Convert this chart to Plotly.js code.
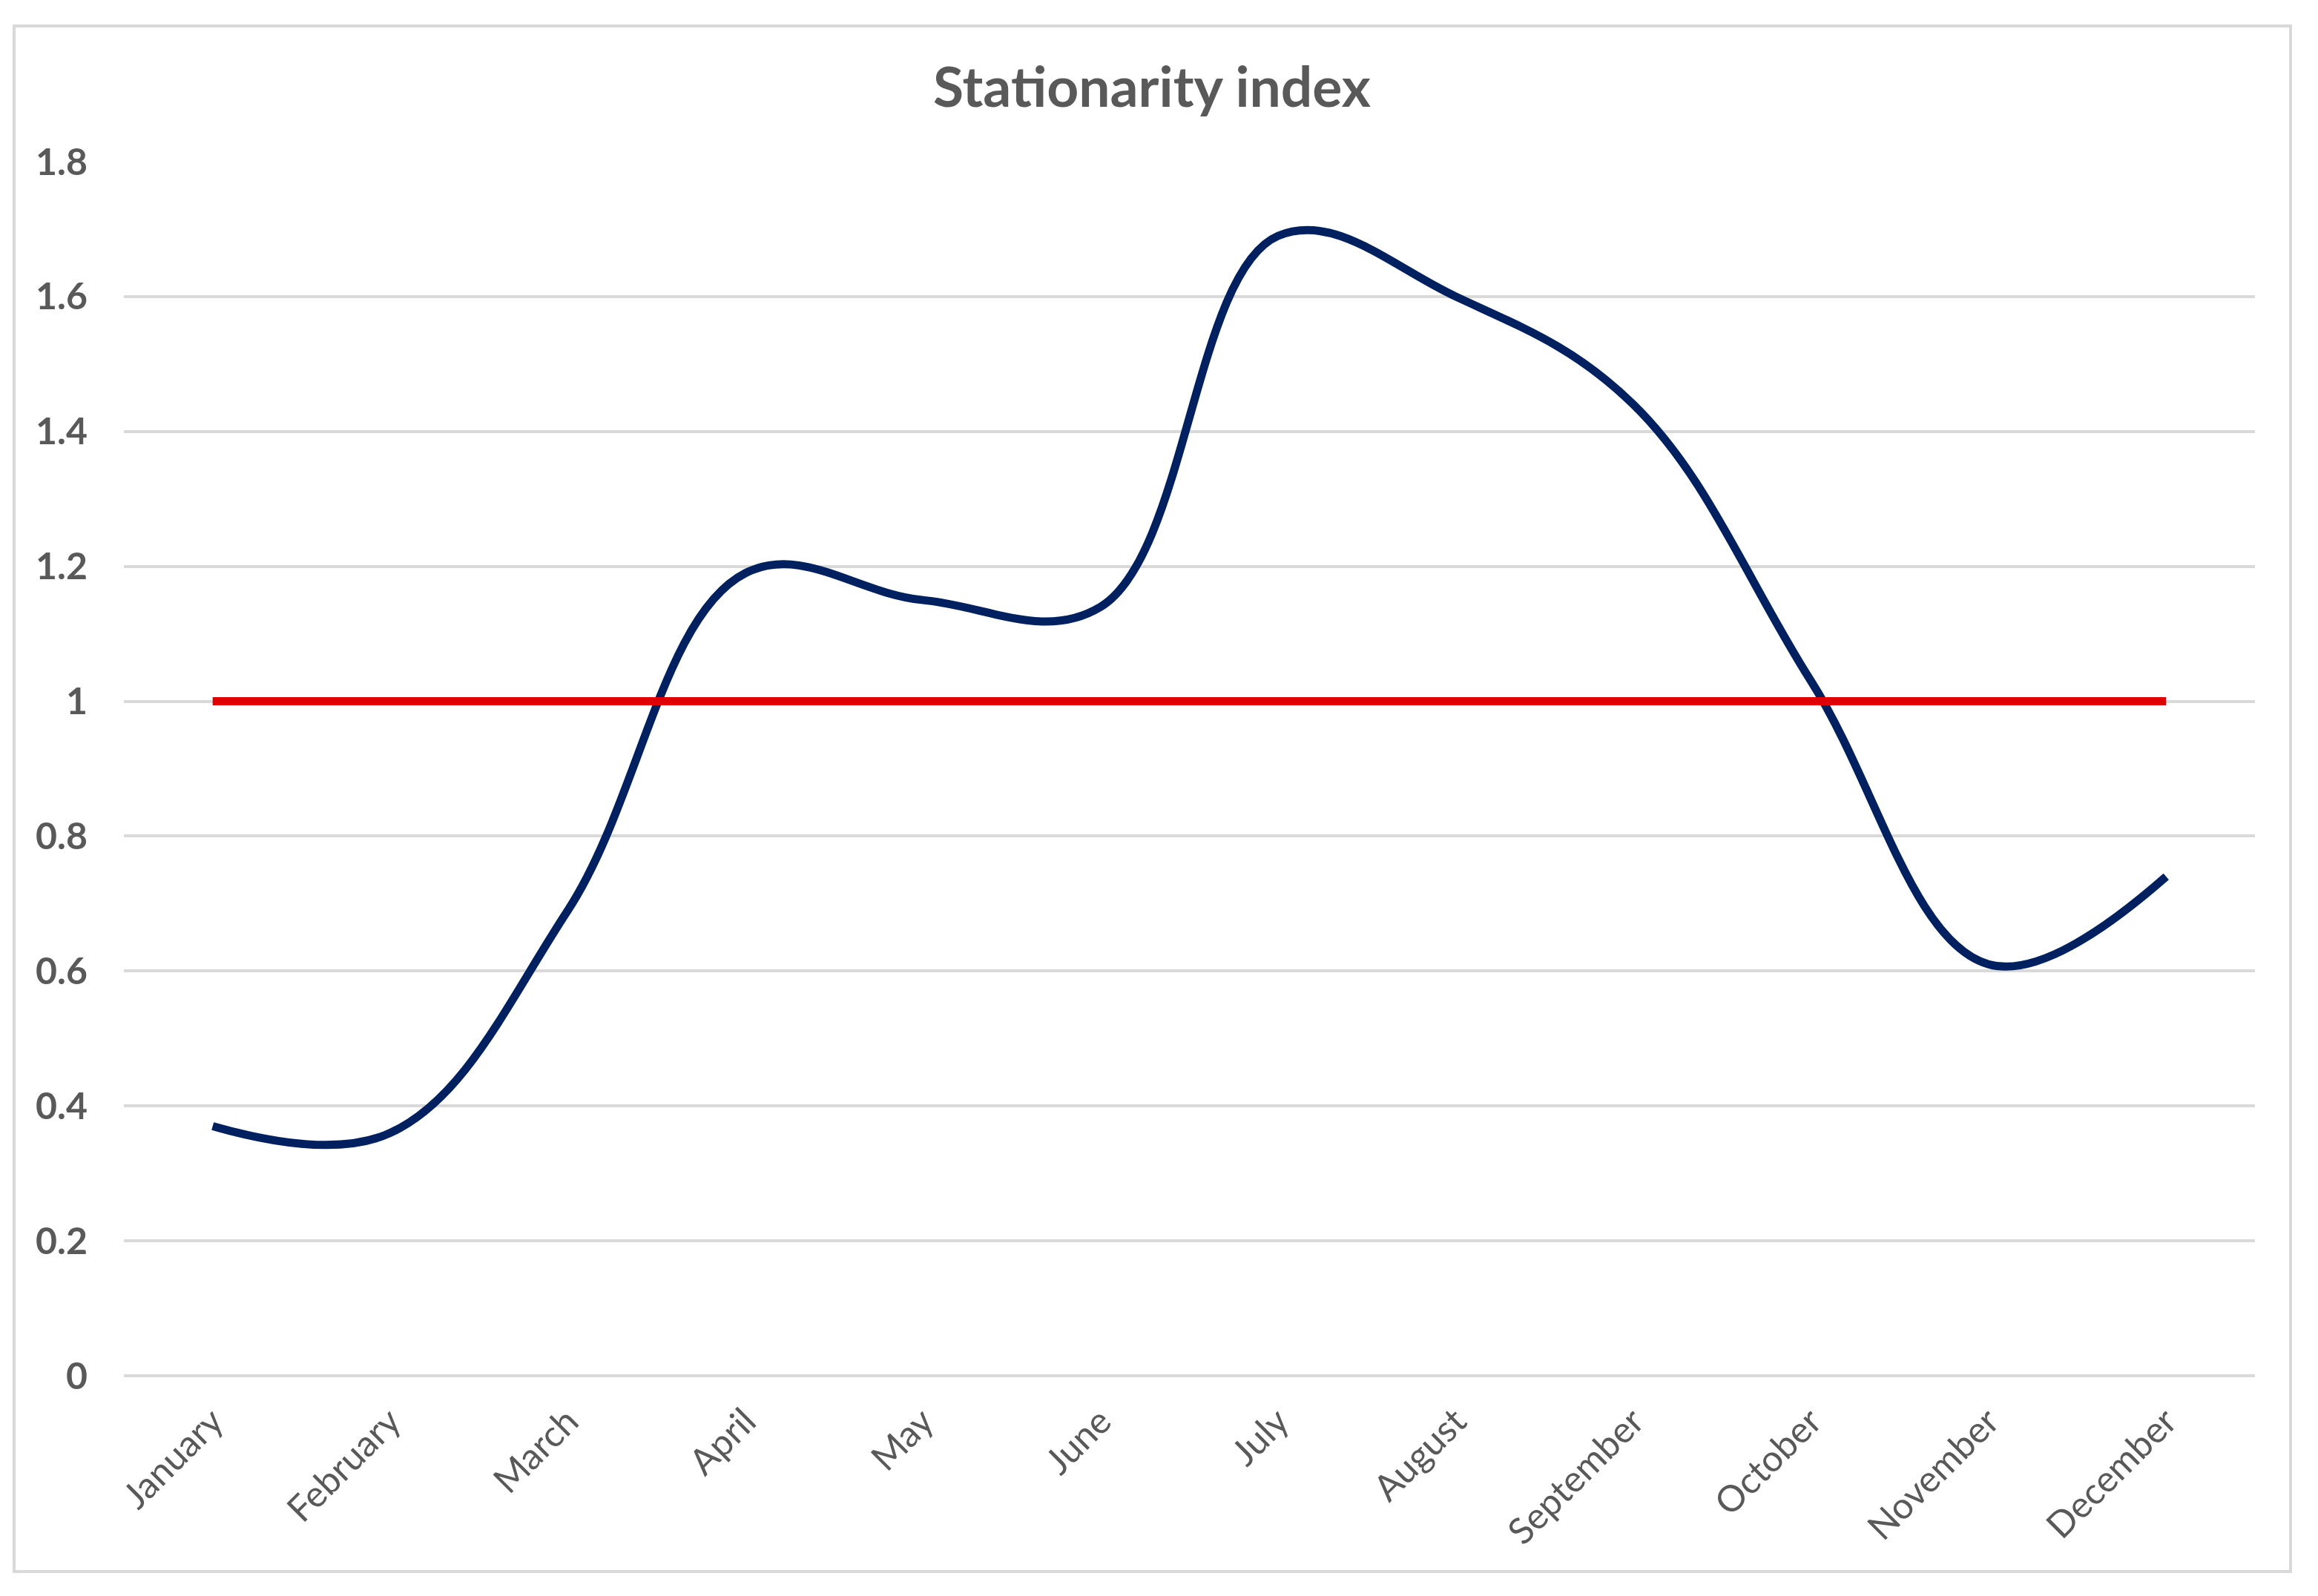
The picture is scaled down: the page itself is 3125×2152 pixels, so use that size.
<!DOCTYPE html>
<html>
<head>
<meta charset="utf-8">
<script src="https://cdn.plot.ly/plotly-3.0.1.min.js"></script>
<style>
  html, body { margin: 0; padding: 0; background: #ffffff; }
  #chart { width: 3125px; height: 2152px; }
</style>
</head>
<body>
<div id="chart"></div>
<script>
const months = ["January", "February", "March", "April", "May", "June",
                "July", "August", "September", "October", "November", "December"];
const stationarityIndex = [0.37, 0.36, 0.69, 1.19, 1.15, 1.14, 1.69, 1.60, 1.44, 1.03, 0.61, 0.74];
const threshold = [1, 1, 1, 1, 1, 1, 1, 1, 1, 1, 1, 1];
const yTicks = [0, 0.2, 0.4, 0.6, 0.8, 1, 1.2, 1.4, 1.6, 1.8];
const chartTitle = "Stationarity index";

const FONT = "Lato, 'Open Sans', 'DejaVu Sans', sans-serif";
const TEXT_COLOR = "#595959";
const GRID_COLOR = "#d9d9d9";

const traces = [
  {
    type: "scatter",
    mode: "lines",
    x: months,
    y: stationarityIndex,
    line: { color: "#002060", width: 11, shape: "spline", smoothing: 1.1 },
    hoverinfo: "x+y",
    showlegend: false
  },
  {
    type: "scatter",
    mode: "lines",
    x: months,
    y: threshold,
    line: { color: "#e00000", width: 11 },
    hoverinfo: "x+y",
    showlegend: false
  }
];

const W = 3125, H = 2152;
const m = { l: 167, r: W - 3040, t: 218, b: H - 1855 };
const pw = W - m.l - m.r, ph = H - m.t - m.b;
const px = v => (v - m.l) / pw;
const py = v => (H - m.b - v) / ph;

const layout = {
  width: W,
  height: H,
  margin: { l: m.l, r: m.r, t: m.t, b: m.b, pad: 0 },
  paper_bgcolor: "#ffffff",
  plot_bgcolor: "#ffffff",
  font: { family: FONT, color: TEXT_COLOR },
  title: {
    text: chartTitle,
    font: { family: FONT, size: 75, color: TEXT_COLOR, weight: "bold" },
    xref: "container",
    x: 1553 / W,
    xanchor: "center",
    yref: "container",
    y: 1 - 118 / H,
    yanchor: "middle"
  },
  xaxis: {
    type: "category",
    range: [-0.5, 11.5],
    showgrid: false,
    showline: false,
    zeroline: false,
    ticks: "",
    tickangle: -45,
    ticklabelstandoff: 22,
    tickfont: { family: FONT, size: 49, color: TEXT_COLOR }
  },
  yaxis: {
    range: [0, 1.8],
    tickmode: "array",
    tickvals: yTicks,
    ticktext: yTicks.map(v => String(v)),
    showgrid: true,
    gridcolor: GRID_COLOR,
    gridwidth: 4,
    zeroline: true,
    zerolinecolor: GRID_COLOR,
    zerolinewidth: 4,
    showline: false,
    ticks: "",
    ticklabelstandoff: 48,
    tickfont: { family: FONT, size: 50, color: TEXT_COLOR, weight: "bold" }
  },
  shapes: [
    {
      type: "rect",
      xref: "paper", yref: "paper",
      x0: px(19), x1: px(3088),
      y0: py(2119), y1: py(35),
      line: { color: GRID_COLOR, width: 4 },
      fillcolor: "rgba(0,0,0,0)",
      layer: "below"
    }
  ],
  showlegend: false
};

Plotly.newPlot("chart", traces, layout, { displayModeBar: false, staticPlot: true });
</script>
</body>
</html>
